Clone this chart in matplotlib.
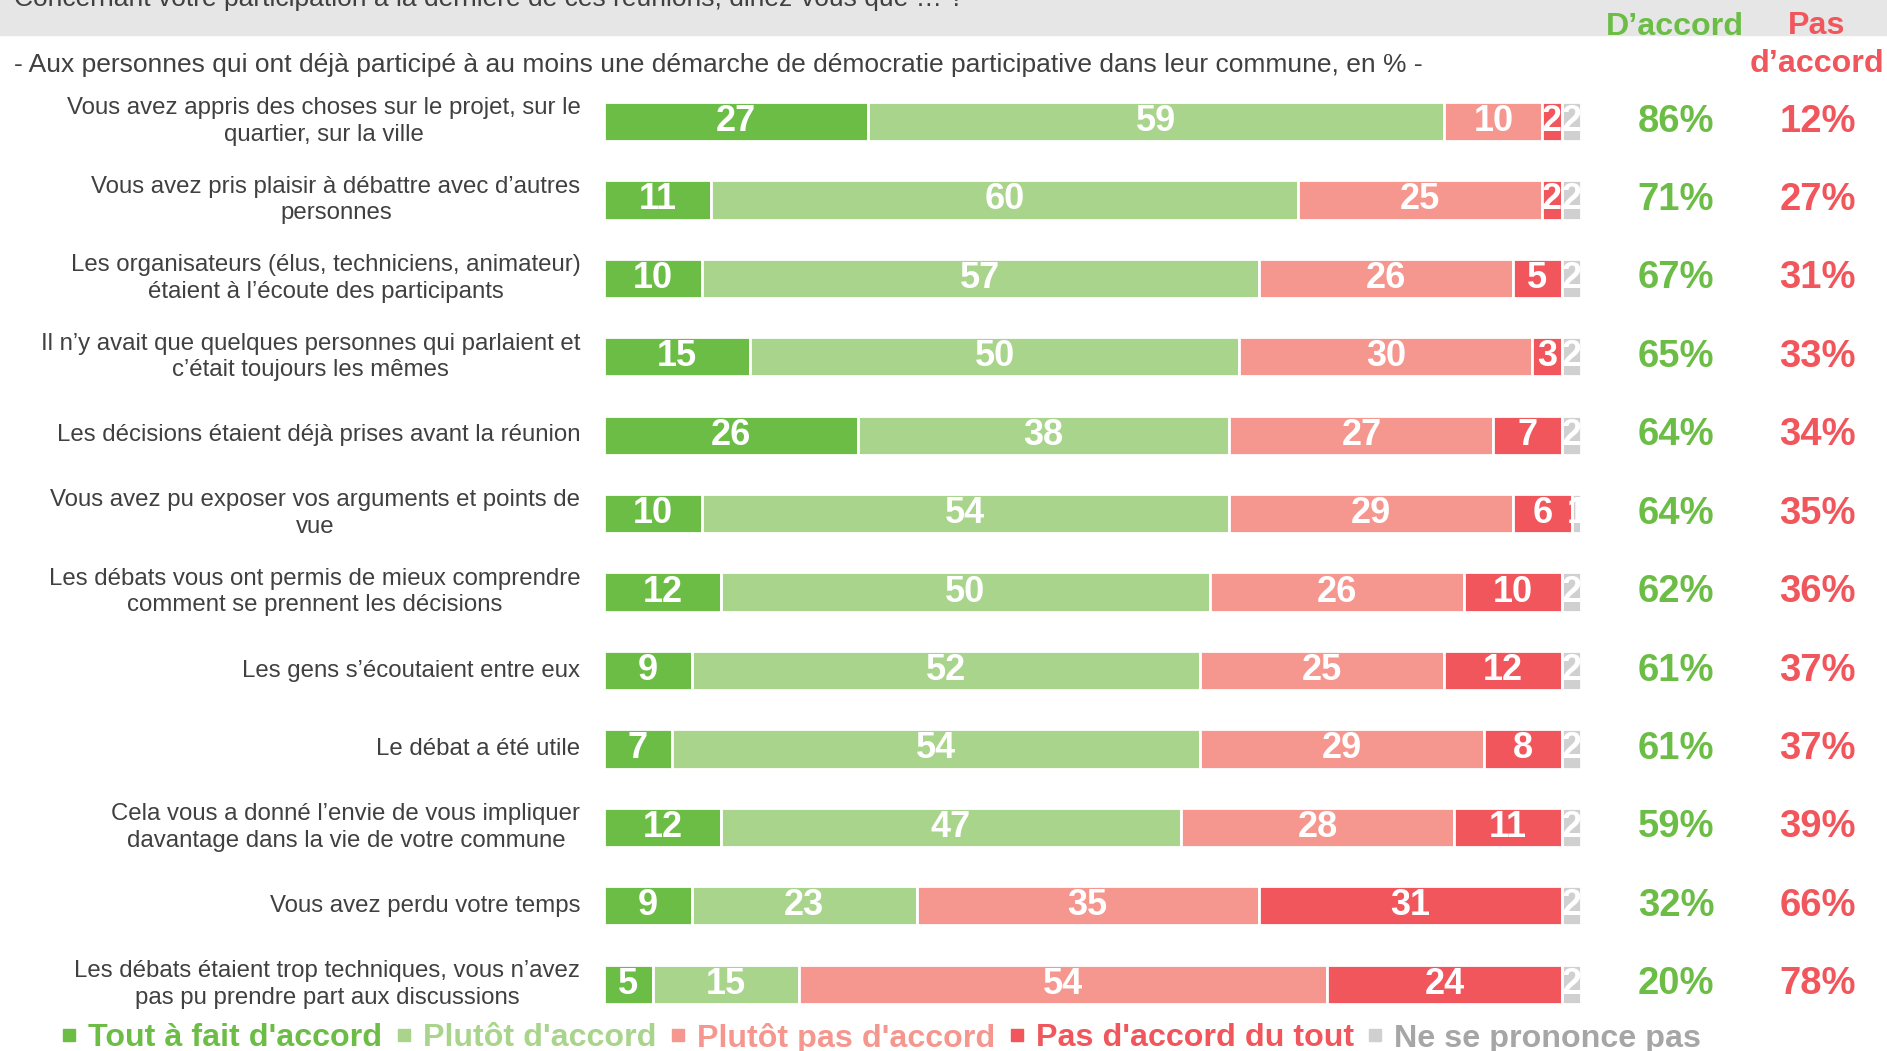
import matplotlib.pyplot as plt
from matplotlib.lines import Line2D
from matplotlib.patches import Rectangle

plt.rcParams['font.family'] = ['Liberation Sans', 'DejaVu Sans']

# Données (en %)
questions = [
    "Vous avez appris des choses sur le projet, sur le\nquartier, sur la ville",
    "Vous avez pris plaisir à débattre avec d’autres\npersonnes",
    "Les organisateurs (élus, techniciens, animateur)\nétaient à l’écoute des participants",
    "Il n’y avait que quelques personnes qui parlaient et\nc’était toujours les mêmes",
    "Les décisions étaient déjà prises avant la réunion",
    "Vous avez pu exposer vos arguments et points de\nvue",
    "Les débats vous ont permis de mieux comprendre\ncomment se prennent les décisions",
    "Les gens s’écoutaient entre eux",
    "Le débat a été utile",
    "Cela vous a donné l’envie de vous impliquer\ndavantage dans la vie de votre commune",
    "Vous avez perdu votre temps",
    "Les débats étaient trop techniques, vous n’avez\npas pu prendre part aux discussions",
]
tout_a_fait = [27, 11, 10, 15, 26, 10, 12, 9, 7, 12, 9, 5]
plutot = [59, 60, 57, 50, 38, 54, 50, 52, 54, 47, 23, 15]
plutot_pas = [10, 25, 26, 30, 27, 29, 26, 25, 29, 28, 35, 54]
pas_du_tout = [2, 2, 5, 3, 7, 6, 10, 12, 8, 11, 31, 24]
nsp = [2, 2, 2, 2, 2, 1, 2, 2, 2, 2, 2, 2]
total_accord = [86, 71, 67, 65, 64, 64, 62, 61, 61, 59, 32, 20]
total_pas = [12, 27, 31, 33, 34, 35, 36, 37, 37, 39, 66, 78]

series = [tout_a_fait, plutot, plutot_pas, pas_du_tout, nsp]
noms = ["Tout à fait d'accord", "Plutôt d'accord", "Plutôt pas d'accord",
        "Pas d'accord du tout", "Ne se prononce pas"]
couleurs = ["#6cbd45", "#a9d48b", "#f5978e", "#f0565b", "#d0d0d0"]
couleurs_leg = ["#6cbd45", "#a9d48b", "#f5978e", "#f0565b", "#a6a6a6"]
VERT = "#6cbd45"
ROUGE = "#f0565b"
GRIS = "#404040"

fig = plt.figure(figsize=(18.87, 10.51), dpi=100)
ax = fig.add_axes([0.320, 0.0262, 0.518, 0.8955])

y = list(range(len(questions)))
left = [0] * len(questions)
for vals, col in zip(series, couleurs):
    bars = ax.barh(y, vals, left=left, height=0.5, color=col,
                   edgecolor='white', linewidth=2)
    for b, v, l in zip(bars, vals, left):
        ax.text(l + v / 2, b.get_y() + b.get_height() / 2, str(v),
                ha='center', va='center', color='white', fontsize=26,
                fontweight='bold', clip_on=True)
    left = [l + v for l, v in zip(left, vals)]

ax.set_xlim(0, 100)
ax.set_ylim(len(questions) - 0.5, -0.5)
ax.axis('off')

# Libellés des questions
for i, q in enumerate(questions):
    ax.text(-2.4, i, q, ha='right', va='center', multialignment='center',
            fontsize=17.3, color=GRIS, linespacing=1.27)

# Totaux à droite
for i, (a, p) in enumerate(zip(total_accord, total_pas)):
    ax.text(109.7, i, f"{a}%", ha='center', va='center', fontsize=27.5,
            fontweight='bold', color=VERT, clip_on=False)
    ax.text(124.2, i, f"{p}%", ha='center', va='center', fontsize=27.5,
            fontweight='bold', color=ROUGE, clip_on=False)

# Bandeau titre
fig.patches.append(Rectangle((0, 1 - 35 / 1051), 1, 35 / 1051,
                             transform=fig.transFigure, color='#e6e6e6', zorder=0))
fig.text(14 / 1887, 1 - 6 / 1051,
         "Concernant votre participation à la dernière de ces réunions, diriez-vous que … ?",
         ha='left', va='baseline', fontsize=19, color=GRIS)
fig.text(14 / 1887, 1 - 65 / 1051,
         "- Aux personnes qui ont déjà participé à au moins une démarche de démocratie participative dans leur commune, en % -",
         ha='left', va='center', fontsize=19, color=GRIS)

# En-têtes des colonnes
fig.text(1675 / 1887, 1 - 27 / 1051, "D’accord", ha='center', va='center',
         fontsize=23.2, fontweight='bold', color=VERT)
fig.text(1817 / 1887, 1 - 45 / 1051, "Pas\nd’accord", ha='center', va='center',
         fontsize=23.2, fontweight='bold', color=ROUGE, linespacing=1.35)

# Légende
handles = [Line2D([], [], marker='s', linestyle='', color=c, markersize=8)
           for c in couleurs]
leg = fig.legend(handles, noms, loc='center left',
                 bbox_to_anchor=(0.0246, 1 - 1038 / 1051),
                 ncol=5, frameon=False, borderpad=0, handletextpad=0.39,
                 columnspacing=0.47, handlelength=0.4,
                 prop={'size': 23.2, 'weight': 'bold'})
for t, c in zip(leg.get_texts(), couleurs_leg):
    t.set_color(c)

fig.savefig('out.png', dpi=100)
